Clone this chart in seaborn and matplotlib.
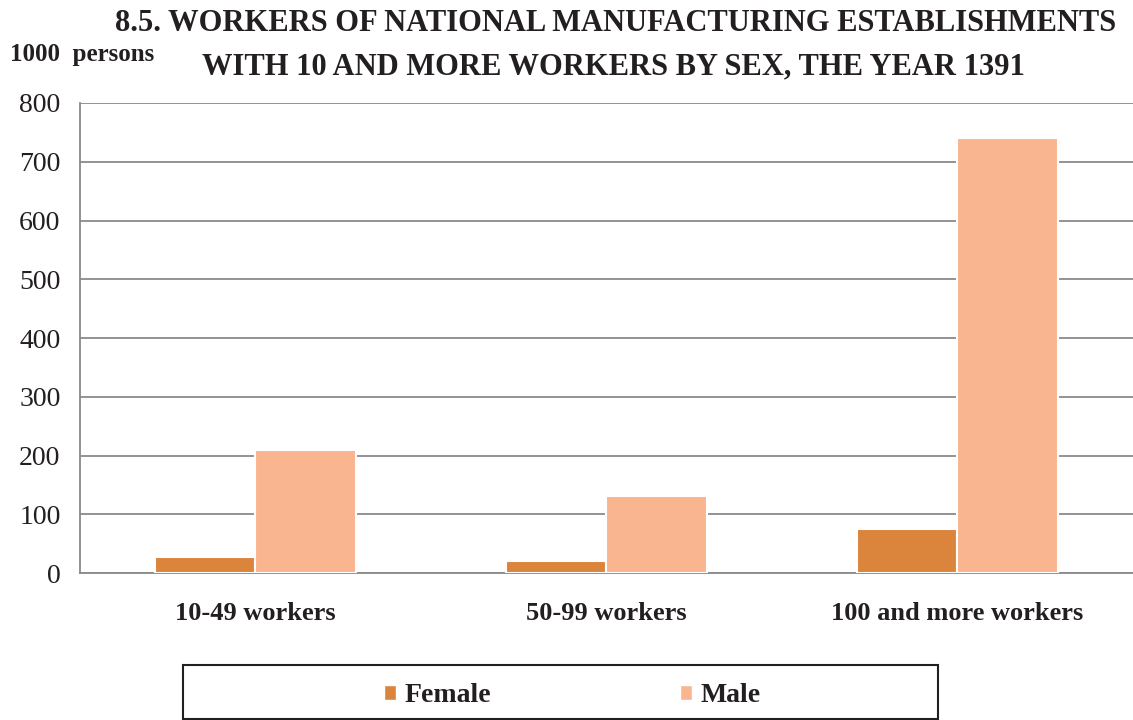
import numpy as np
import pandas as pd
import matplotlib
matplotlib.use("Agg")
import matplotlib.pyplot as plt
import seaborn as sns

# values in 1000 persons
categories = ["10-49 workers", "50-99 workers", "100 and more workers"]
female = [27, 20, 75]
male = [209, 131, 740]
series_names = ["Female", "Male"]
y_ticks = [0, 100, 200, 300, 400, 500, 600, 700, 800]

colors = {"Female": "#DB843C", "Male": "#F8B590"}

df = pd.DataFrame({
    "category": categories * 2,
    "sex": ["Female"] * 3 + ["Male"] * 3,
    "value": female + male,
})

sns.set_style("white")
plt.rcParams['font.family'] = ['Liberation Serif', 'DejaVu Serif']

fig = plt.figure(figsize=(11.33, 7.2), dpi=100)
ax = fig.add_axes([0.0706, 0.204, 0.9294, 0.653])

sns.barplot(data=df, x="category", y="value", hue="sex", hue_order=series_names,
            palette=colors, width=0.57, gap=0, edgecolor="white", linewidth=1.5,
            saturation=1, legend=False, ax=ax, zorder=3)

ax.set_ylim(0, 800)
ax.set_xlim(-0.5, 2.5)
ax.set_yticks(y_ticks)
ax.set_yticklabels([str(t) for t in y_ticks], fontsize=20, color="#231F20")
ax.yaxis.grid(True, color="#8A8A8A", linewidth=1.3, zorder=0)
ax.set_axisbelow(True)
ax.set_xlabel("")
ax.set_ylabel("")

ax.set_xticks(range(len(categories)))
ax.set_xticklabels(categories, fontsize=19, fontweight="bold", color="#231F20")
ax.tick_params(axis="x", which="major", length=0, pad=21)
ax.set_xticks([0.5, 1.5], minor=True)
ax.tick_params(axis="x", which="minor", length=6, color="#8A8A8A", width=1.2)
ax.tick_params(axis="y", length=7, color="#8A8A8A", width=1.2, pad=7)

for side in ["top", "right"]:
    ax.spines[side].set_visible(False)
for side in ["left", "bottom"]:
    ax.spines[side].set_color("#8A8A8A")
    ax.spines[side].set_linewidth(1.3)

fig.text(0.543, 0.968, "8.5. WORKERS OF NATIONAL MANUFACTURING ESTABLISHMENTS",
         ha="center", va="center", fontsize=22, fontweight="bold", color="#231F20")
fig.text(0.541, 0.907, "WITH 10 AND MORE WORKERS BY SEX, THE YEAR 1391",
         ha="center", va="center", fontsize=22, fontweight="bold", color="#231F20")
fig.text(0.009, 0.924, "1000  persons", ha="left", va="center",
         fontsize=18, fontweight="bold", color="#231F20")

# legend box
box = plt.Rectangle((0.1615, 0.0014), 0.6664, 0.075, transform=fig.transFigure,
                    facecolor="white", edgecolor="#231F20", linewidth=1.5)
fig.patches.append(box)

handles = [plt.Rectangle((0, 0), 1, 1, facecolor=colors[s], edgecolor="white")
           for s in series_names]
leg = fig.legend(handles, series_names, loc="center",
                 bbox_to_anchor=(0.505, 0.034),
                 ncol=2, frameon=False, handlelength=0.45,
                 handleheight=0.45, handletextpad=0.3, columnspacing=6.8,
                 prop={"weight": "bold", "size": 20, "family": "Liberation Serif"})
for t in leg.get_texts():
    t.set_color("#231F20")

fig.savefig("out.png", dpi=100)
